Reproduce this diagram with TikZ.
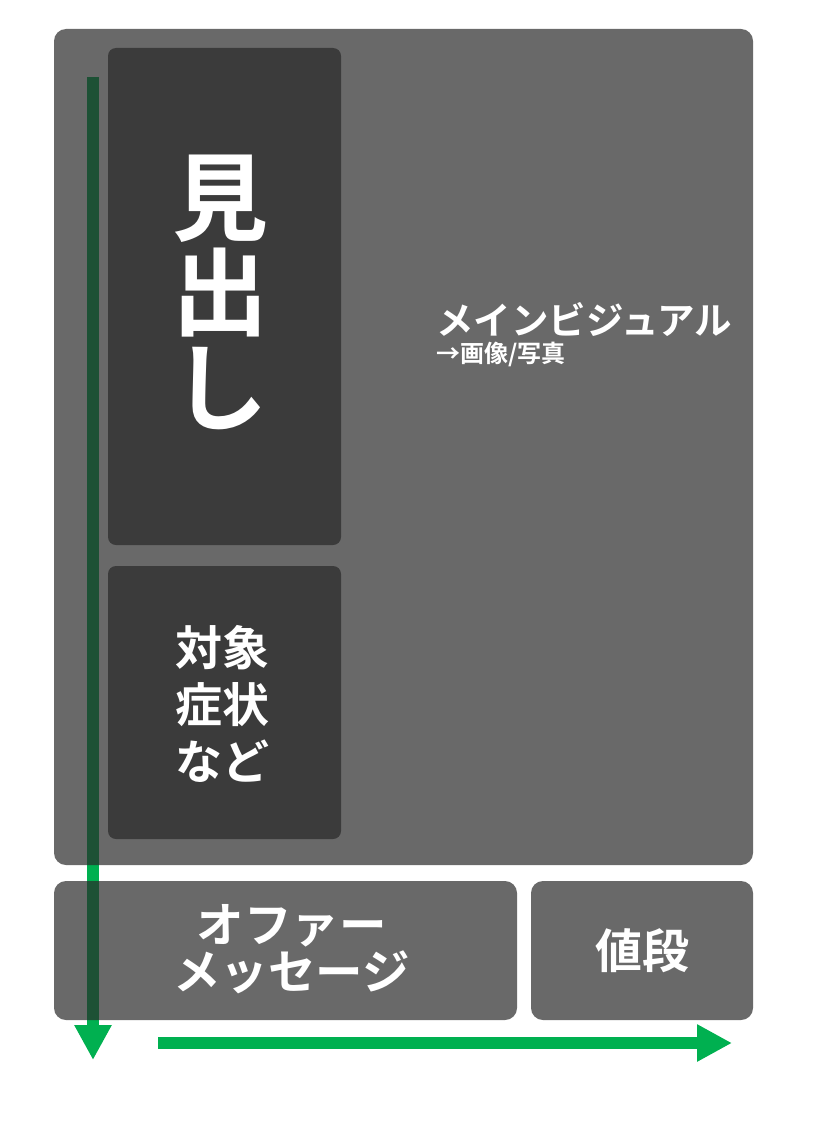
\documentclass[tikz,border=0pt]{standalone}
\usepackage{fontspec}
\setmainfont{Noto Sans CJK JP}[BoldFont=* Bold]
\usetikzlibrary{arrows.meta,positioning}
\definecolor{dg}{HTML}{00B050}
\definecolor{panelgray}{HTML}{2A2A2A}
\definecolor{darkgray}{HTML}{3B3B3B}
\tikzset{
    panel/.style =  {rectangle,
                    rounded corners=12pt,
                    fill=panelgray,
                    fill opacity=0.706,
                    text opacity=1,
                    text=white,
                    inner sep=0pt},
    block/.style =  {rectangle,
                    rounded corners=8pt,
                    fill=darkgray,
                    text=white,
                    inner sep=0pt,
                    minimum width=233pt},
    label/.style =  {text=white,
                    inner sep=0pt,
                    align=center,
                    font=\bfseries},
    -,
    flow/.style =   {draw=dg,
                    line width=11.5pt,
                    -{Triangle[width=35pt,length=35pt]}},
    >=stealth}

\begin{document}
\begin{tikzpicture}[x=1pt,y=-1pt]
                \useasboundingbox (0,0) rectangle (813,1145);
                % reading direction
                \coordinate (V0) at (93,77);
                \coordinate (V1) at (93,1060);
                \coordinate (H0) at (158,1043);
                \coordinate (H1) at (732,1043);
                \draw[flow] (V0) -- (V1);
                \draw[flow] (H0) -- (H1);
                % layout
                \node[panel, minimum width=699pt, minimum height=836pt] (visual) at (403.5,447) {};
                \node[panel, minimum width=463pt, minimum height=139pt] (offer) at (285.5,950.5) {};
                \node[panel, minimum width=222pt, minimum height=139pt] (price) at (642,950.5) {};
                \node[block, minimum height=497pt] (head) at (224.5,296.5) {};
                \node[block, minimum height=273pt] (target) at (224.5,702.5) {};
                % texts
                \node[label, font={\fontsize{96}{95}\selectfont\bfseries}] (headT) at ([xshift=-4pt,yshift=4pt]head.center) {見\\出\\し};
                \node[label, font={\fontsize{47}{57}\selectfont\bfseries}] (targetT) at ([xshift=-2pt,yshift=-1pt]target.center) {対象\\症状\\など};
                \node[label, font={\fontsize{47.5}{47}\selectfont\bfseries}] (offerT) at ([xshift=6pt,yshift=1pt]offer.center) {オファー\\メッセージ};
                \node[label, font={\fontsize{47}{47}\selectfont\bfseries}] (priceT) at (price.center) {値段};
                \node[label, anchor=west, font={\fontsize{37.5}{37.5}\selectfont\bfseries}] (mainT) at (436,320) {メインビジュアル};
                \node[label, anchor=north west, font={\fontsize{24}{24}\selectfont\bfseries}] (mainS) [below=5pt of mainT.south west, anchor=north west] {→画像/写真};
        \end{tikzpicture}
\end{document}
